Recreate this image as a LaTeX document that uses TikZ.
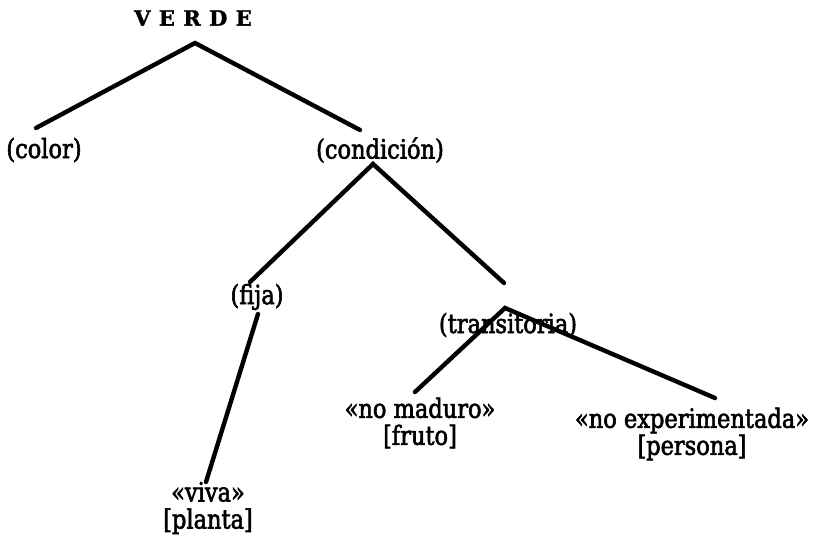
\documentclass[tikz,border=0pt]{standalone}
\usepackage{fontspec}
\setmainfont{DejaVu Serif}
\newfontfamily\lblfont[FakeStretch=0.85, FakeBold=2.2]{DejaVu Serif}
\newfontfamily\titlefont[FakeBold=1.5]{DejaVu Serif}
\begin{document}
\begin{tikzpicture}[x=1pt,y=-1pt,
  lbl/.style={font=\lblfont\fontsize{26.5}{27}\selectfont, inner sep=0pt, align=center},
  br/.style={line width=4.4pt, line cap=round}]
\useasboundingbox[fill=white] (0,0) rectangle (830,553);
\node[inner sep=0pt, font=\titlefont\bfseries\fontsize{21}{24}\selectfont] (verde) at (193,18) {V\hspace{0.4em}E\hspace{0.4em}R\hspace{0.4em}D\hspace{0.4em}E};
\node[lbl] (color) at (44,150) {(color)};
\node[lbl] (cond) at (380,150) {(condición)};
\node[lbl] (fija) at (257,297) {(fija)};
\node[lbl] (trans) at (508,325) {(transitoria)};
\node[lbl] (viva) at (208,508) {«viva»\\{[}planta{]}};
\node[lbl] (mad) at (420,423) {«no maduro»\\{[}fruto{]}};
\node[lbl] (exp) at (692,434) {«no experimentada»\\{[}persona{]}};
% junction / end points
\coordinate (v0) at (195,43);
\coordinate (colorT) at (36,128);
\coordinate (condT) at (360,130);
\coordinate (c0) at (373,164);
\coordinate (fijaT) at (250,282);
\coordinate (transT) at (504,283);
\coordinate (fijaB) at (258,314);
\coordinate (vivaT) at (206,482);
\coordinate (t0) at (505,308);
\coordinate (madT) at (415,392);
\coordinate (expT) at (715,398);
\draw[br] (colorT) -- (v0) -- (condT);
\draw[br] (fijaT) -- (c0) -- (transT);
\draw[br] (fijaB) -- (vivaT);
\draw[br] (madT) -- (t0) -- (expT);
\end{tikzpicture}
\end{document}
